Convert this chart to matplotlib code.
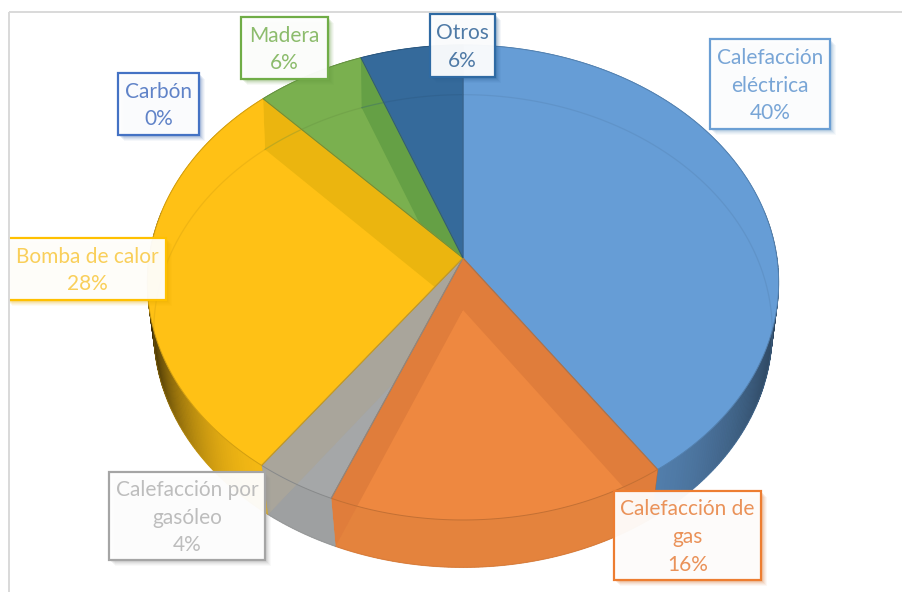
import numpy as np
import matplotlib
matplotlib.use("Agg")
import matplotlib.pyplot as plt
from matplotlib.patches import Polygon, Rectangle

plt.rcParams['font.family'] = ['Lato', 'DejaVu Sans']

# Data, clockwise from 12 o'clock
categories = ["Calefacción eléctrica", "Calefacción de gas", "Calefacción por gasóleo",
              "Carbón", "Bomba de calor", "Madera", "Otros"]
values = [40.4, 15.8, 3.8, 0.0, 28.0, 6.2, 5.8]
label_names = ["Calefacción\neléctrica", "Calefacción de\ngas", "Calefacción por\ngasóleo",
               "Carbón", "Bomba de calor", "Madera", "Otros"]

# Styles
face_colors = ["#669DD6", "#EE8840", "#A5A7A8", "#4472C4", "#FFC115", "#7AB04F", "#356A9B"]
band_colors = ["#669DD6", "#E07D3B", "#A9A59B", "#4472C4", "#EBB50F", "#65A045", "#356A9B"]
border_colors = ["#6B9FD4", "#ED7D31", "#A5A5A5", "#4472C4", "#FFC000", "#70AD47", "#2F6AA3"]
text_colors = ["#78A5D6", "#EA9259", "#BDBDBD", "#6083C8", "#F9CF5A", "#8CBC6C", "#4F7AA6"]
# label boxes: left, top, right, bottom (pixels)
boxes = [(710, 39, 830, 129), (614, 491, 761, 580), (109, 472, 265, 560),
         (118, 73, 199, 135), (6, 238, 166, 300), (241, 17, 328, 79), (430, 14, 495, 77)]

# Projection of the disc (perspective), pixels
TOP = dict(cx=463.0, cy=258.0, A=314.0, B=235.0, k=0.103)
BOT = dict(cx=463.0, cy=310.0, A=308.0, B=234.5, k=0.089)


def project(theta, layer, r=1.0):
    u = r * np.sin(theta)
    v = -r * np.cos(theta)
    w = 1 - layer['k'] * v
    return layer['cx'] + layer['A'] * u / w, layer['cy'] + layer['B'] * v / w


def shade(c, f):
    rgb = np.array(matplotlib.colors.to_rgb(c))
    return tuple(np.clip(rgb * f, 0, 1))


fig = plt.figure(figsize=(9.03, 5.92), dpi=100)
ax = fig.add_axes([0, 0, 1, 1])
ax.set_xlim(0, 903)
ax.set_ylim(592, 0)
ax.axis('off')

# chart frame
ax.plot([9, 903], [12, 12], color="#D9D9D9", lw=1.4, zorder=0, solid_capstyle='butt')
ax.plot([9, 9], [12, 592], color="#D9D9D9", lw=1.4, zorder=9, solid_capstyle='butt')

edges = np.concatenate([[0.0], np.cumsum(values)]) / np.sum(values) * 2 * np.pi


def wedge_poly(t0, t1, layer):
    th = np.linspace(t0, t1, 120)
    x, y = project(th, layer)
    return np.column_stack([np.r_[layer['cx'], x], np.r_[layer['cy'], y]])


def extended_poly(t0, t1):
    """Top wedge plus the wall hanging under its rim."""
    th = np.linspace(t0, t1, 120)
    x, y = project(th, BOT)
    xa, ya = project(t0, TOP)
    xb, yb = project(t1, TOP)
    return np.column_stack([np.r_[TOP['cx'], xa, x, xb], np.r_[TOP['cy'], ya, y, yb]])


slices = [(i, edges[i], edges[i + 1]) for i in range(len(values)) if values[i] > 0]

# bottom faces
for i, t0, t1 in slices:
    ax.add_patch(Polygon(wedge_poly(t0, t1, BOT), closed=True, fc=face_colors[i], ec='none', zorder=1))

# outer walls
for i, t0, t1 in slices:
    n = max(int((t1 - t0) * 90), 2)
    th = np.linspace(t0, t1, n + 1)
    for a, b in zip(th[:-1], th[1:]):
        m = (a + b) / 2
        u = np.sin(m)
        v = -np.cos(m)
        c = np.clip((abs(u) - 0.55) / 0.45, 0, 1)
        if v <= -0.2:
            f = 0.95
        elif u > 0.55:
            f = 0.80 - 0.38 * c ** 1.5
        else:
            f = 0.96 - 0.75 * c ** 2.2
        xa, ya = project(a, TOP)
        xb, yb = project(b, TOP)
        xc, yc = project(b, BOT)
        xd, yd = project(a, BOT)
        col = shade(face_colors[i], f)
        ax.add_patch(Polygon([(xa, ya), (xb, yb), (xc, yc), (xd, yd)], closed=True,
                             fc=col, ec=col, lw=0.5, zorder=2))

# top faces
for i, t0, t1 in slices:
    ax.add_patch(Polygon(wedge_poly(t0, t1, TOP), closed=True, fc=face_colors[i], ec='none', zorder=3))

# inner radial walls, seen through the translucent slices
for i, t0, t1 in slices:
    front = -np.cos((t0 + t1) / 2) > 0
    clip_xy = extended_poly(t0, t1) if front else wedge_poly(t0, t1, TOP)
    clip = Polygon(clip_xy, closed=True, transform=ax.transData)
    for e in edges:
        xt, yt = project(e, TOP)
        xb, yb = project(e, BOT)
        p = Polygon([(TOP['cx'], TOP['cy']), (xt, yt), (xb, yb), (BOT['cx'], BOT['cy'])],
                    closed=True, fc=band_colors[i], ec='none', zorder=4)
        ax.add_patch(p)
        p.set_clip_path(clip)

# outline of the bottom disc, seen through the slices
for i, t0, t1 in slices:
    th = np.linspace(t0, t1, 120)
    x, y = project(th, BOT)
    ax.plot(x, y, color=shade(face_colors[i], 0.8), lw=0.9, alpha=0.3, zorder=4)

# rims of the top faces
for i, t0, t1 in slices:
    ax.add_patch(Polygon(wedge_poly(t0, t1, TOP), closed=True, fc='none',
                         ec=shade(face_colors[i], 0.82), lw=0.7, zorder=4.5))

# labels
frame_clip = Rectangle((9, 0), 903, 592, transform=ax.transData)
for name, val, box, bc, tc in zip(label_names, values, boxes, border_colors, text_colors):
    l, t, r, b = box
    for off, a in ((6, 0.05), (5, 0.07), (4, 0.09), (3, 0.12), (2, 0.15)):
        ax.add_patch(Rectangle((l + off, t + off), r - l, b - t, fc=shade(bc, 0.9), ec='none',
                               alpha=a, zorder=5)).set_clip_path(frame_clip)
    ax.add_patch(Rectangle((l, t), r - l, b - t, fc='white', ec='none', alpha=0.95, zorder=6)).set_clip_path(frame_clip)
    ax.add_patch(Rectangle((l, t), r - l, b - t, fc='none', ec=bc, lw=1.6, zorder=7)).set_clip_path(frame_clip)
    cx = (max(l, 10) + r) / 2 - (1 if l < 10 else 0)
    ax.text(cx, (t + b) / 2 + 1.5, f"{name}\n{val:.0f}%", color=tc, fontsize=15,
            ha='center', va='center', linespacing=1.48, zorder=8)

fig.savefig("out.png", dpi=100)
